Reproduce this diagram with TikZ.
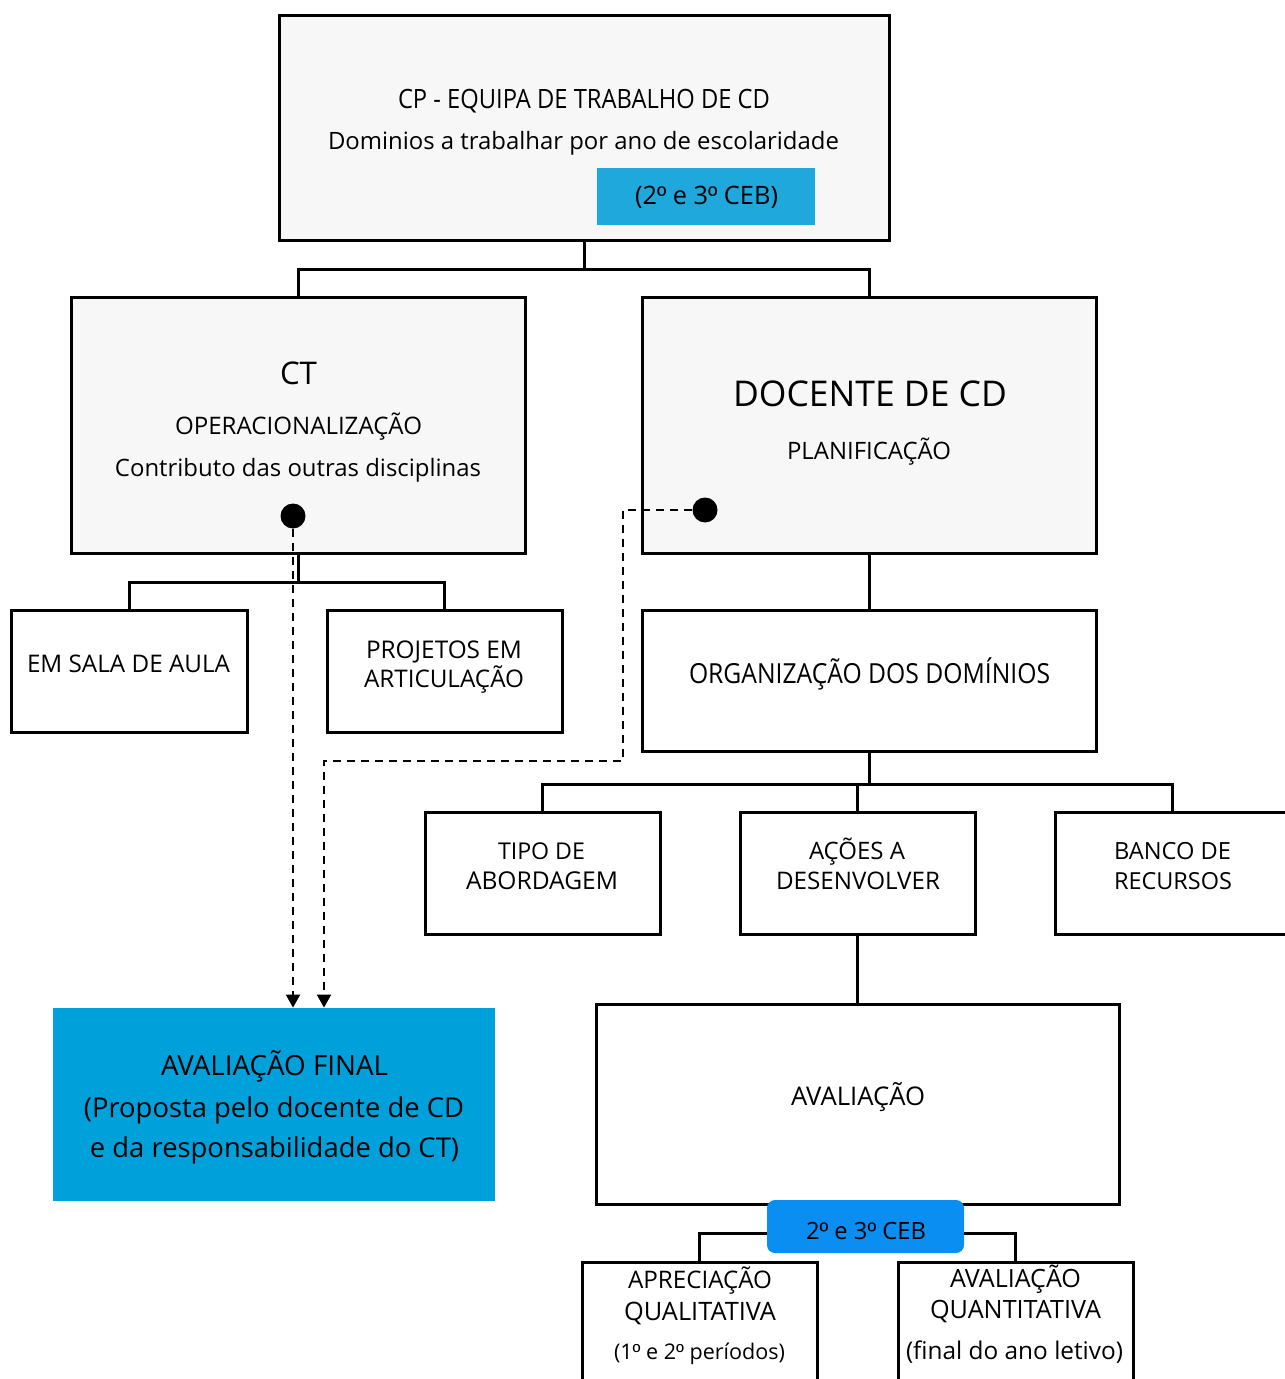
\documentclass[tikz,border=0pt]{standalone}
\usepackage{fontspec}
\setmainfont{Open Sans}
\newfontfamily\libs{Liberation Sans}
\usepackage{graphicx}
\usetikzlibrary{arrows.meta}
\definecolor{boxgray}{HTML}{F7F7F7}
\definecolor{cebblue}{HTML}{1EA8DC}
\definecolor{finalblue}{HTML}{00A1DB}
\definecolor{cebtwoblue}{HTML}{0A8EF2}
\newcommand\tw[2]{\resizebox{#1pt}{!}{#2}}
\newcommand\tws[3]{\scalebox{1}[#2]{\resizebox{#1pt}{!}{#3}}}
\newcommand\ordo{{\libs º}}
\tikzset{
  gbox/.style={draw, line width=1.5pt, fill=boxgray, inner sep=0pt},
  wbox/.style={draw, line width=1.5pt, fill=white, inner sep=0pt},
  conn/.style={line width=1.5pt},
  dline/.style={line width=1pt, dash pattern=on 4pt off 3pt},
  darrow/.style={dline, -{Triangle[width=7pt,length=6.5pt]}},
  dotnode/.style={circle, fill=black, minimum size=12.5pt, inner sep=0pt},
  txt/.style={anchor=base, inner sep=0pt, outer sep=0pt},
}
\begin{document}
\begin{tikzpicture}[x=0.5pt,y=-0.5pt]
\useasboundingbox (0,0) rectangle (1284,1379);
\fill[white] (0,0) rectangle (1284,1379);

% ---- boxes ----
\node[gbox, minimum width=305pt, minimum height=112.5pt] (cp) at (584,128.5) {};
\node[fill=cebblue, inner sep=0pt, minimum width=109pt, minimum height=28.5pt] (cebone) at (706,196.5) {};
\node[gbox, minimum width=227pt, minimum height=127.5pt] (ct) at (298,425.5) {};
\node[gbox, minimum width=227pt, minimum height=127.5pt] (doc) at (869,425.5) {};
\node[wbox, minimum width=118pt, minimum height=61pt] (sala) at (129,671) {};
\node[wbox, minimum width=117.5pt, minimum height=61pt] (proj) at (444.5,671) {};
\node[wbox, minimum width=227pt, minimum height=70.5pt] (org) at (869,680.5) {};
\node[wbox, minimum width=117.5pt, minimum height=61pt] (tipo) at (542.5,873) {};
\node[wbox, minimum width=117.5pt, minimum height=61pt] (acoes) at (857.5,873) {};
\node[wbox, minimum width=117.5pt, minimum height=61pt] (banco) at (1172.5,873) {};
\node[wbox, minimum width=261.5pt, minimum height=100pt] (aval) at (857.5,1104) {};
\node[wbox, minimum width=117.5pt, minimum height=69pt] (apre) at (699.5,1331) {};
\node[wbox, minimum width=117.5pt, minimum height=69pt] (quant) at (1015.5,1331) {};
\node[fill=finalblue, inner sep=0pt, minimum width=221pt, minimum height=96.5pt] (final) at (274,1104.5) {};
\node[fill=cebtwoblue, rounded corners=4pt, inner sep=0pt, minimum width=98.5pt, minimum height=26.5pt] (cebtwo) at (865.5,1226.5) {};

% ---- connectors ----
\coordinate (j1) at (584,270);
\coordinate (j2) at (298,582);
\coordinate (j3) at (869,784);
\draw[conn] (cp.south) -- (j1);
\draw[conn] (ct.north) |- (j1) -| (doc.north);
\draw[conn] (ct.south) -- (j2);
\draw[conn] (sala.north) |- (j2) -| (proj.north);
\draw[conn] (doc.south) -- (org.north);
\draw[conn] (org.south) -- (j3);
\draw[conn] (tipo.north) |- (j3) -| (banco.north);
\draw[conn] (acoes.north) -- (acoes.north |- j3);
\draw[conn] (acoes.south) -- (aval.north);
\draw[conn] ([yshift=-3.25pt]cebtwo.west) -| (apre.north);
\draw[conn] ([yshift=-3.25pt]cebtwo.east) -| (quant.north);

% ---- texts ----
\node[txt] (t1) at (584,109) {\tws{186}{1.12}{CP - EQUIPA DE TRABALHO DE CD}};
\node[txt] (t2) at (583.5,150) {\tw{255.5}{Dominios a trabalhar por ano de escolaridade}};
\node[txt] (t3) at (706.5,205) {\tw{71.5}{(2\ordo{} e 3\ordo{} CEB)}};
\node[txt] (t4) at (298.5,385) {\tw{18.5}{CT}};
\node[txt] (t5) at (298.5,434) {\tw{123.5}{OPERACIONALIZAÇÃO}};
\node[txt] (t6) at (298,476) {\tw{183}{Contributo das outras disciplinas}};
\node[txt] (t7) at (870,407) {\tw{137}{DOCENTE DE CD}};
\node[txt] (t8) at (869,459) {\tw{82}{PLANIFICAÇÃO}};
\node[txt] (t9) at (128.5,672) {\tw{101.5}{EM SALA DE AULA}};
\node[txt] (t10) at (444,658) {\tw{78}{PROJETOS EM}};
\node[txt] (t11) at (444,687) {\tw{80}{ARTICULAÇÃO}};
\node[txt] (t12) at (869.5,683) {\tws{180.5}{1.12}{ORGANIZAÇÃO DOS DOMÍNIOS}};
\node[txt] (t13) at (541.5,859) {\tw{43.5}{TIPO DE}};
\node[txt] (t14) at (542,889) {\tw{76}{ABORDAGEM}};
\node[txt] (t15) at (857,859) {\tw{48}{AÇÕES A}};
\node[txt] (t16) at (858,889) {\tw{82}{DESENVOLVER}};
\node[txt] (t17) at (1172.5,859) {\tw{58.5}{BANCO DE}};
\node[txt] (t18) at (1173,889) {\tw{59}{RECURSOS}};
\node[txt] (t19) at (858,1105) {\tw{67}{AVALIAÇÃO}};
\node[txt] (t20) at (866,1239) {\tw{60}{2\ordo{} e 3\ordo{} CEB}};
\node[txt] (t21) at (700,1288) {\tw{72}{APRECIAÇÃO}};
\node[txt] (t22) at (700,1320) {\tw{76}{QUALITATIVA}};
\node[txt] (t23) at (699.5,1359) {\tw{85.5}{(1\ordo{} e 2\ordo{} períodos)}};
\node[txt] (t24) at (1015.5,1287) {\tw{65.5}{AVALIAÇÃO}};
\node[txt] (t25) at (1015.5,1318) {\tw{85.5}{QUANTITATIVA}};
\node[txt] (t26) at (1014.5,1359) {\tw{108.5}{(final do ano letivo)}};
\node[txt] (t27) at (274.5,1075) {\tw{113.5}{AVALIAÇÃO FINAL}};
\node[txt] (t28) at (274,1117) {\tw{190}{(Proposta pelo docente de CD}};
\node[txt] (t29) at (274.5,1157) {\tw{184.5}{e da responsabilidade do CT)}};

% ---- dashed links ----
\node[dotnode] (d1) at (293,516) {};
\node[dotnode] (d2) at (705,510) {};
\coordinate (k1) at (623,761);
\coordinate (k2) at (324,0);
\draw[darrow] (d1) -- (d1 |- final.north);
\draw[darrow] (d2) -| (k1) -| (k2 |- final.north);
\end{tikzpicture}
\end{document}
